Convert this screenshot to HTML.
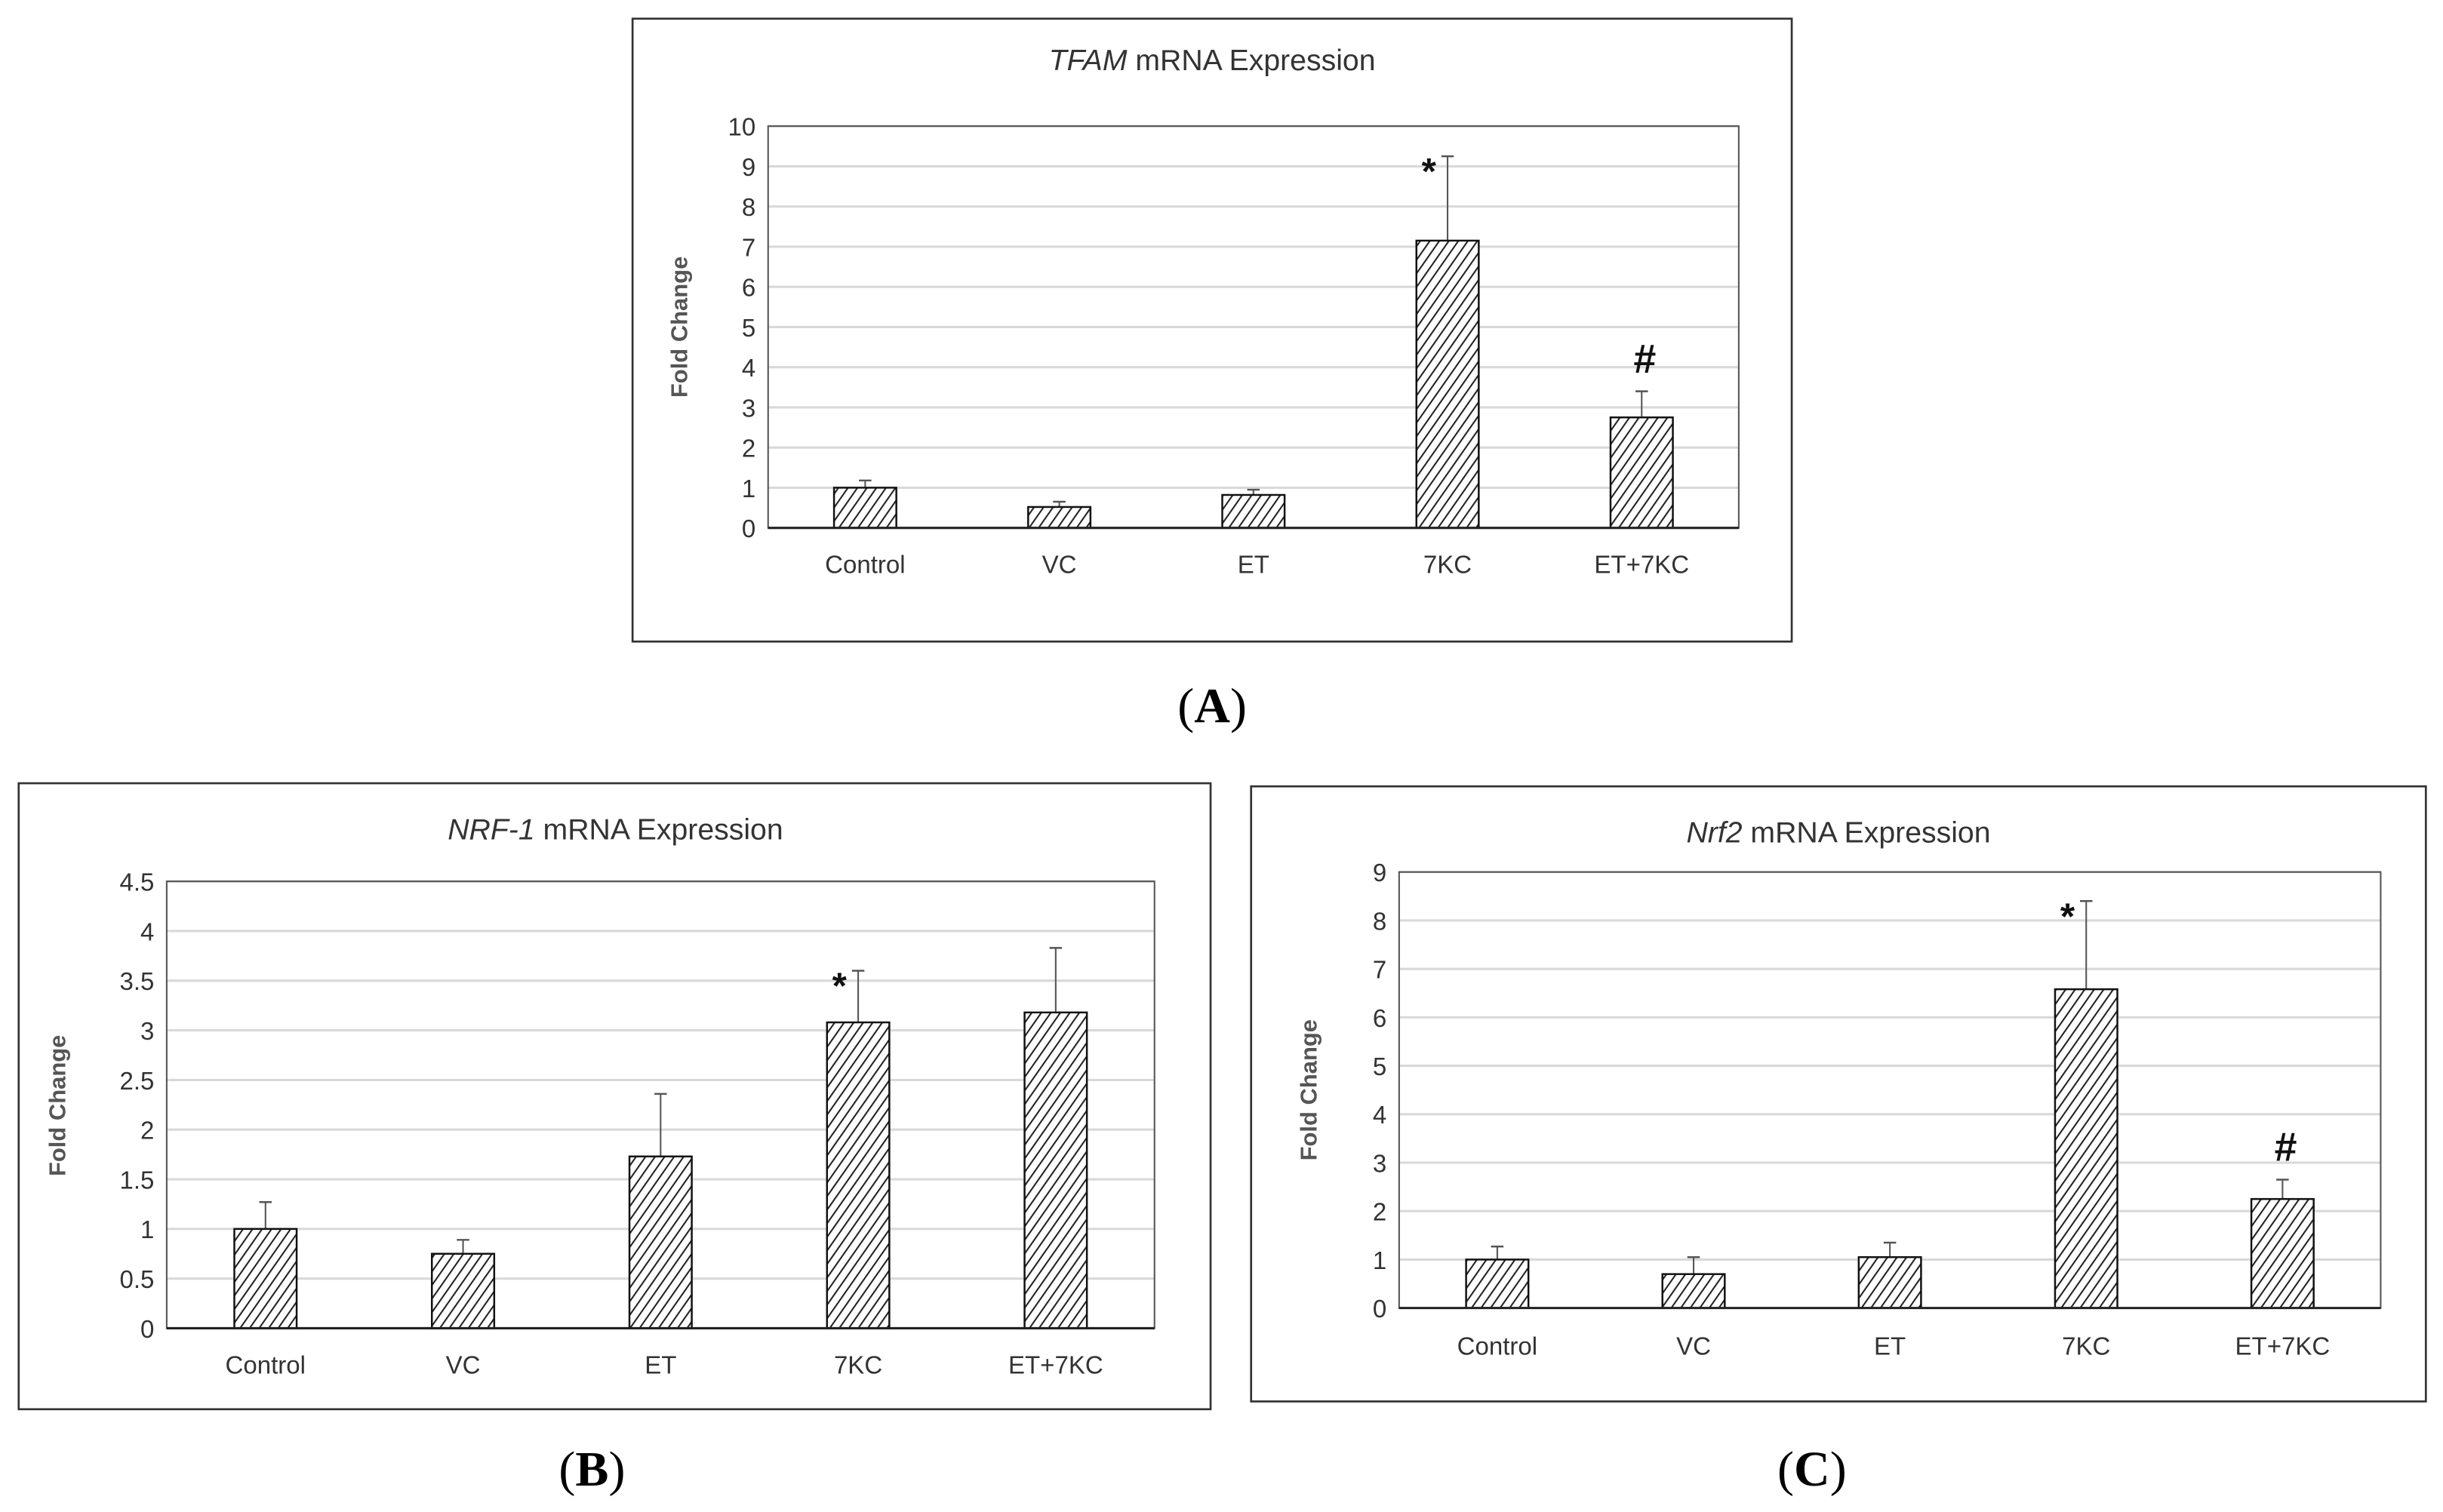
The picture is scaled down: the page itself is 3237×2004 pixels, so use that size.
<!DOCTYPE html>
<html><head><meta charset="utf-8"><style>
html,body{margin:0;padding:0;background:#fff}
svg{display:block}
text{font-family:"Liberation Sans",Arial,sans-serif}
</style></head><body>
<svg id="fig" width="3237" height="2004" viewBox="0 0 1568 971" preserveAspectRatio="none" xmlns="http://www.w3.org/2000/svg">
<defs>
<pattern id="hatch" patternUnits="userSpaceOnUse" width="5" height="5" patternTransform="rotate(35)">
<rect width="5" height="5" fill="#fff"/>
<line x1="0" y1="0" x2="0" y2="5" stroke="#222" stroke-width="2"/>
</pattern>
</defs>
</svg>
<script>
const categories = ["Control","VC","ET","7KC","ET+7KC"];
const tfamValues = [1.0,0.52,0.82,7.15,2.75];
const tfamErrTop = [1.18,0.65,0.95,9.25,3.4];
const tfamTicks = ["0","1","2","3","4","5","6","7","8","9","10"];
const nrf1Values = [1.0,0.75,1.73,3.08,3.18];
const nrf1ErrTop = [1.27,0.89,2.36,3.6,3.83];
const nrf1Ticks = ["0","0.5","1","1.5","2","2.5","3","3.5","4","4.5"];
const nrf2Values = [1.0,0.7,1.05,6.58,2.25];
const nrf2ErrTop = [1.27,1.05,1.35,8.4,2.65];
const nrf2Ticks = ["0","1","2","3","4","5","6","7","8","9"];
const tfamMarks = ["","","","*","#"];
const nrf1Marks = ["","","","*",""];
const nrf2Marks = ["","","","*","#"];

const NS="http://www.w3.org/2000/svg";
const svg=document.getElementById('fig');
function mk(tag,attrs,parent){const e=document.createElementNS(NS,tag);for(const k in attrs)e.setAttribute(k,attrs[k]);(parent||svg).appendChild(e);return e;}

function panel(cfg){
  const g=mk('g',{});
  
  
  const fr=mk('rect',{x:cfg.fx,y:cfg.fy,width:cfg.fw,height:cfg.fh,fill:'#fff',stroke:'#333','stroke-width':1.3},g);
  
  
  const t=mk('text',{x:cfg.tx,y:cfg.ty,'text-anchor':'middle','font-size':19,fill:'#333'},g);
  
  
  const ts=mk('tspan',{'font-style':'italic'},t);ts.textContent=cfg.gene;
  const ts2=mk('tspan',{},t);ts2.textContent=' mRNA Expression';
  const maxV=cfg.max;
  const y=v=>cfg.y0-(v/maxV)*(cfg.y0-cfg.ytop);
  const band=(cfg.x1-cfg.x0)/categories.length;
  const xc=i=>cfg.x0+band*(i+0.5);
  cfg.ticks.forEach((lab)=>{
    const v=parseFloat(lab);
    if(v>0){const gl=mk('line',{x1:cfg.x0,x2:cfg.x1,y1:y(v),y2:y(v),stroke:'#d9d9d9','stroke-width':1.5},g);
      
      }
    const tl=mk('text',{x:cfg.x0-8,y:y(v)+6,'text-anchor':'end','font-size':16,fill:'#333'},g);
    
    
    tl.textContent=lab;
  });
  const pa=mk('rect',{x:cfg.x0,y:cfg.ytop,width:cfg.x1-cfg.x0,height:cfg.y0-cfg.ytop,fill:'none',stroke:'#555','stroke-width':1},g);
  
  
  const bw=40;
  categories.forEach((c,i)=>{
    const v=cfg.values[i], e=cfg.err[i];
    const el=mk('line',{x1:xc(i),x2:xc(i),y1:y(v),y2:y(e),stroke:'#555','stroke-width':1},g);
    
    
    const ec=mk('line',{x1:xc(i)-4,x2:xc(i)+4,y1:y(e),y2:y(e),stroke:'#555','stroke-width':1.2},g);
    
    
    const b=mk('rect',{x:xc(i)-bw/2,y:y(v),width:bw,height:cfg.y0-y(v),fill:'url(#hatch)',stroke:'#111','stroke-width':1.2},g);
    
    
    const cl=mk('text',{x:xc(i),y:cfg.cy,'text-anchor':'middle','font-size':16,fill:'#333'},g);
    
    
    cl.textContent=c;
    const m=cfg.marks[i];
    if(m){const mt=mk('text',{x:m==='*'?xc(i)-12:xc(i)+2,y:m==='*'?y(e)+18:y(e)-12,'text-anchor':'middle','font-size':m==='*'?24:26,'font-weight':'bold',fill:'#111'},g);
      
      
      mt.textContent=m;}
  });
  const ax=mk('line',{x1:cfg.x0,x2:cfg.x1,y1:cfg.y0,y2:cfg.y0,stroke:'#222','stroke-width':1.5},g);
  
  
  const yt=mk('text',{x:0,y:0,'text-anchor':'middle','font-size':15,'font-weight':'bold',fill:'#555',transform:`translate(${cfg.yx},${cfg.yy}) rotate(-90)`},g);
  
  
  yt.textContent='Fold Change';
  const pl=mk('text',{x:cfg.lx,y:cfg.ly,'text-anchor':'middle','font-size':32,style:'font-family:"Liberation Serif",serif',fill:'#000'},g);
  
  
  const p1=mk('tspan',{},pl);p1.textContent='(';
  const p2=mk('tspan',{'font-weight':'bold'},pl);p2.textContent=cfg.letter;
  const p3=mk('tspan',{},pl);p3.textContent=')';
}
panel({id:'tfam',gene:'TFAM',letter:'A',fx:406,fy:12,fw:744,fh:400,tx:778,ty:45,x0:493,x1:1116,y0:339,ytop:81,max:10,ticks:tfamTicks,values:tfamValues,err:tfamErrTop,marks:tfamMarks,cy:368,yx:441,yy:210,lx:778,ly:464});
panel({id:'nrf1',gene:'NRF-1',letter:'B',fx:12,fy:503,fw:765,fh:402,tx:395,ty:539,x0:107,x1:741,y0:853,ytop:566,max:4.5,ticks:nrf1Ticks,values:nrf1Values,err:nrf1ErrTop,marks:nrf1Marks,cy:882,yx:42,yy:710,lx:380,ly:954});
panel({id:'nrf2',gene:'Nrf2',letter:'C',fx:803,fy:505,fw:754,fh:395,tx:1180,ty:541,x0:898,x1:1528,y0:840,ytop:560,max:9,ticks:nrf2Ticks,values:nrf2Values,err:nrf2ErrTop,marks:nrf2Marks,cy:870,yx:845,yy:700,lx:1163,ly:954});
</script>
</body></html>
